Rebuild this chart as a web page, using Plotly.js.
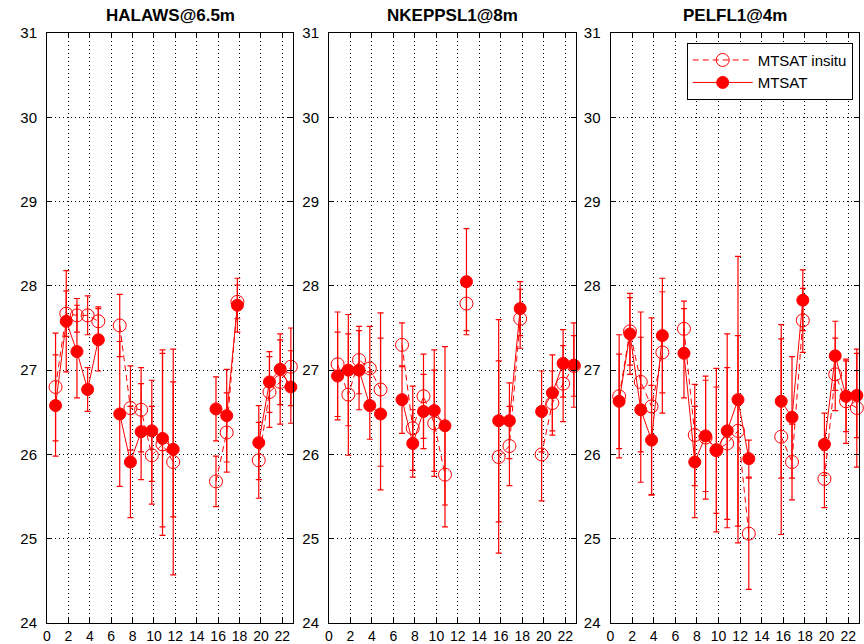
<!DOCTYPE html>
<html>
<head>
<meta charset="utf-8">
<script src="https://cdn.plot.ly/plotly-3.0.1.min.js"></script>
<style>
  html, body { margin: 0; padding: 0; background: #fff; }
  #chart { width: 864px; height: 644px; }
</style>
</head>
<body>
<div id="chart"></div>
<script>
// Hour of day for each hourly sample (samples taken ten-odd minutes before the hour)
const hours = [0.8, 1.8, 2.8, 3.8, 4.8, 5.8, 6.8, 7.8, 8.8, 9.8, 10.8, 11.8,
               12.8, 13.8, 14.8, 15.8, 16.8, 17.8, 18.8, 19.8, 20.8, 21.8, 22.8];

const stationNames = ['HALAWS@6.5m', 'NKEPPSL1@8m', 'PELFL1@4m'];

// HALAWS @ 6.5 m
const halawsSat    = [26.58, 27.58, 27.22, 26.77, 27.36, null, 26.48, 25.91, 26.27, 26.28, 26.19, 26.06,
                      null, null, null, 26.54, 26.46, 27.77, null, 26.14, 26.86, 27.01, 26.80];
const halawsSatErr = [0.60, 0.60, 0.55, 0.26, 0.37, null, 0.86, 0.66, 0.57, 0.60, 1.05, 0.80,
                      null, null, null, 0.38, 0.55, 0.32, null, 0.44, 0.36, 0.42, 0.43];
const halawsIns    = [26.80, 27.67, 27.65, 27.65, 27.58, null, 27.53, 26.55, 26.53, 25.99, 26.12, 25.91,
                      null, null, null, 25.68, 26.26, 27.81, null, 25.93, 26.74, 26.86, 27.04];
const halawsInsErr = [0.64, 0.27, 0.20, 0.23, 0.17, null, 0.37, 0.50, 0.50, 0.58, 1.08, 1.34,
                      null, null, null, 0.30, 0.47, 0.20, null, 0.45, 0.42, 0.50, 0.46];

// NKEPPSL1 @ 8 m
const nkeSat    = [26.93, 27.00, 27.00, 26.58, 26.48, null, 26.65, 26.13, 26.51, 26.52, 26.34, null,
                   28.05, null, null, 26.40, 26.40, 27.73, null, 26.51, 26.73, 27.08, 27.06];
const nkeSatErr = [0.52, 0.66, 0.47, 0.40, 0.90, null, 0.40, 0.40, 0.44, 0.72, 0.94, null,
                   0.63, null, null, 1.20, 0.45, 0.32, null, 0.48, 0.45, 0.40, 0.50];
const nkeIns    = [27.07, 26.71, 27.12, 27.02, 26.77, null, 27.30, 26.31, 26.69, 26.37, 25.76, null,
                   27.79, null, null, 25.97, 26.10, 27.61, null, 26.00, 26.61, 26.84, 27.05];
const nkeInsErr = [0.62, 0.72, 0.40, 0.50, 0.91, null, 0.26, 0.50, 0.50, 0.63, 0.62, null,
                   0.32, null, null, 1.14, 0.47, 0.35, null, 0.55, 0.38, 0.45, 0.36];

// PELFL1 @ 4 m
const pelSat    = [26.63, 27.43, 26.53, 26.17, 27.41, null, 27.20, 25.91, 26.22, 26.05, 26.28, 26.65,
                   25.95, null, null, 26.63, 26.44, 27.83, null, 26.12, 27.17, 26.69, 26.70];
const pelSatErr = [0.56, 0.48, 0.86, 0.65, 0.68, null, 0.53, 0.66, 0.66, 0.97, 1.15, 1.70,
                   0.22, null, null, 0.91, 0.72, 0.36, null, 0.37, 0.41, 0.42, 0.50];
const pelIns    = [26.69, 27.46, 26.86, 26.57, 27.21, null, 27.49, 26.23, 26.20, 26.05, 26.13, 26.28,
                   25.06, null, null, 26.21, 25.91, 27.59, null, 25.71, 26.95, 26.63, 26.55];
const pelInsErr = [0.73, 0.40, 0.83, 1.05, 0.72, null, 0.33, 0.60, 0.73, 0.75, 0.90, 1.13,
                   0.66, null, null, 1.16, 0.45, 0.38, null, 0.34, 0.43, 0.50, 0.70];

const xTicks = [0, 2, 4, 6, 8, 10, 12, 14, 16, 18, 20, 22];
const yTicks = [24, 25, 26, 27, 28, 29, 30, 31];

const panels = [
  { sat: halawsSat, satErr: halawsSatErr, ins: halawsIns, insErr: halawsInsErr },
  { sat: nkeSat,    satErr: nkeSatErr,    ins: nkeIns,    insErr: nkeInsErr },
  { sat: pelSat,    satErr: pelSatErr,    ins: pelIns,    insErr: pelInsErr }
];

const RED = '#ff0000';
const traces = [];
panels.forEach((p, i) => {
  const xa = i === 0 ? 'x' : 'x' + (i + 1);
  const ya = i === 0 ? 'y' : 'y' + (i + 1);
  traces.push({
    type: 'scatter', mode: 'lines+markers', name: 'MTSAT insitu',
    x: hours, y: p.ins, xaxis: xa, yaxis: ya,
    showlegend: i === 0, cliponaxis: false,
    line: { color: RED, width: 1, dash: '6px,4px' },
    marker: { symbol: 'circle-open', size: 13, color: RED, line: { color: RED, width: 1 } },
    error_y: { type: 'data', array: p.insErr, visible: true, color: RED, thickness: 1.2, width: 3 }
  });
  traces.push({
    type: 'scatter', mode: 'lines+markers', name: 'MTSAT',
    x: hours, y: p.sat, xaxis: xa, yaxis: ya,
    showlegend: i === 0, cliponaxis: false,
    line: { color: RED, width: 1 },
    marker: { symbol: 'circle', size: 12, color: RED, line: { color: RED, width: 1 } },
    error_y: { type: 'data', array: p.satErr, visible: true, color: RED, thickness: 1.2, width: 3 }
  });
});

const FONT = 'Liberation Sans, Arial, Helvetica, sans-serif';
const plotW = 864 - 47 - 5;
const domains = [
  [0, 246 / plotW],
  [282 / plotW, 529 / plotW],
  [563.5 / plotW, 1]
];

function xAxis(i) {
  return {
    domain: domains[i], range: [0, 23], anchor: i === 0 ? 'y' : 'y' + (i + 1),
    tickvals: xTicks, ticktext: xTicks.map(String),
    showline: true, linecolor: '#000', linewidth: 1, mirror: 'ticks',
    ticks: 'inside', ticklen: 5, tickcolor: '#000',
    showgrid: true, gridcolor: '#000', gridwidth: 1, griddash: '1px,3px',
    zeroline: false, ticklabelstandoff: 0,
    tickfont: { family: FONT, size: 14, color: '#000' }
  };
}
function yAxis(i) {
  return {
    range: [24, 31], anchor: i === 0 ? 'x' : 'x' + (i + 1),
    tickvals: yTicks, ticktext: yTicks.map(String),
    showline: true, linecolor: '#000', linewidth: 1, mirror: 'ticks',
    ticks: 'inside', ticklen: 5, tickcolor: '#000',
    showgrid: true, gridcolor: '#000', gridwidth: 1, griddash: '1px,3px',
    zeroline: false, ticklabelstandoff: 6,
    tickfont: { family: FONT, size: 15, color: '#000' }
  };
}

const layout = {
  width: 864, height: 644,
  margin: { l: 47, r: 5, t: 33, b: 21 },
  paper_bgcolor: '#fff', plot_bgcolor: '#fff',
  font: { family: FONT, size: 14, color: '#000' },
  showlegend: true,
  legend: {
    x: (852.7 - 47) / plotW, xanchor: 'right',
    y: 1 - (42.7 - 33) / 590, yanchor: 'top',
    bgcolor: '#fff', bordercolor: '#000', borderwidth: 1,
    font: { family: FONT, size: 15, color: '#000' },
    itemwidth: 60, tracegroupgap: 0
  },
  xaxis: xAxis(0), xaxis2: xAxis(1), xaxis3: xAxis(2),
  yaxis: yAxis(0), yaxis2: yAxis(1), yaxis3: yAxis(2),
  annotations: stationNames.map((name, i) => ({
    text: '<b>' + name + '</b>',
    xref: 'paper', yref: 'paper',
    x: (domains[i][0] + domains[i][1]) / 2, xanchor: 'center',
    y: 1 + (33 - 16) / 590, yanchor: 'middle',
    showarrow: false,
    font: { family: FONT, size: 17, color: '#000' }
  }))
};

Plotly.newPlot('chart', traces, layout, { displayModeBar: false, staticPlot: true });
</script>
</body>
</html>
